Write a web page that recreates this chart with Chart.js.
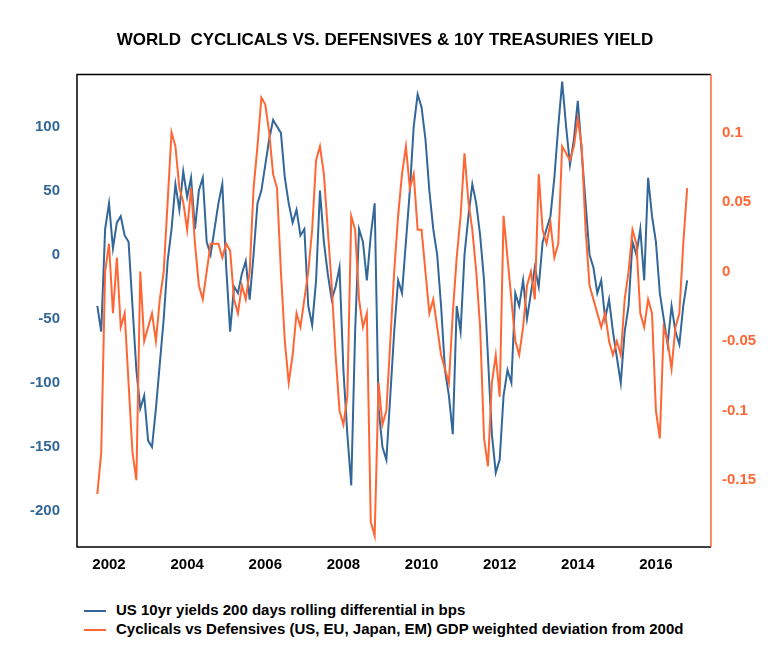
<!DOCTYPE html>
<html>
<head>
<meta charset="utf-8">
<script src="https://cdn.jsdelivr.net/npm/chart.js@4"></script>
<style>
  body { margin: 0; background: #fff; font-family: "Liberation Sans", Arial, sans-serif; }
  #wrap { width: 770px; height: 580px; }
  .legend { margin: 20px 0 0 84px; font-weight: bold; font-size: 15px; color: #000; }
  .legend div { height: 19px; line-height: 19px; }
  .legend span { display: inline-block; width: 22px; height: 2px; vertical-align: middle; margin-right: 10px; }
</style>
</head>
<body>
<div id="wrap"><canvas id="x-chart" width="770" height="580"></canvas></div>
<div class="legend">
  <div><span style="background:#336699"></span>US 10yr yields 200 days rolling differential in bps</div>
  <div><span style="background:#FF6633"></span>Cyclicals vs Defensives (US, EU, Japan, EM) GDP weighted deviation from 200d</div>
</div>
<script>
// sampled every 0.1 year starting 2001.7
var startYear = 2001.7;

var yieldDiff = [
  -40, -60, 20,
  40, 5, 25, 30, 15, 10, -40, -90, -120, -110,
  -145, -150, -120, -85, -50, -5, 20, 55, 35, 65,
  45, 60, 20, 50, 60, 10, 0, 20, 40, 55,
  -10, -60, -25, -30, -15, -5, -35, 0, 40, 50,
  70, 90, 105, 100, 95, 60, 40, 25, 35, 15,
  20, -40, -55, -20, 50, 10, -15, -35, -25, -10,
  -90, -140, -180, -60, 20, 10, -20, 15, 40, -120,
  -150, -160, -110, -60, -20, -30, 10, 50, 100, 125,
  115, 90, 50, 20, 0, -40, -90, -110, -140, -40,
  -60, 0, 30, 55, 40, 15, -20, -80, -140, -170,
  -160, -110, -90, -100, -30, -40, -20, -50, -30, -10,
  -25, 10, 20, 30, 60, 100, 135, 100, 70, 90,
  120, 80, 40, 0, -10, -30, -20, -50, -35, -60,
  -80, -100, -60, -40, 10, 0, 20, -20, 60, 30,
  10, -30, -50, -70, -40, -60, -70, -40, -20
];

var cycDef = [
  -0.16, -0.13, 0.0,
  0.02, -0.03, 0.01, -0.04, -0.03, -0.08, -0.13, -0.15, 0.0, -0.05,
  -0.04, -0.03, -0.05, -0.02, 0.0, 0.05, 0.10, 0.09, 0.06, 0.05,
  0.03, 0.06, 0.02, -0.01, -0.02, 0.0, 0.02, 0.02, 0.02, 0.01,
  0.02, 0.015, -0.02, -0.03, -0.01, -0.02, 0.0, 0.06, 0.09, 0.125,
  0.12, 0.10, 0.07, 0.06, 0.0, -0.05, -0.08, -0.06, -0.03, -0.04,
  -0.02, 0.0, 0.03, 0.08, 0.09, 0.07, 0.03, -0.01, -0.06, -0.10,
  -0.11, -0.09, 0.04, 0.03, -0.02, -0.04, -0.03, -0.18, -0.19, -0.08,
  -0.11, -0.10, -0.05, 0.0, 0.04, 0.07, 0.09, 0.06, 0.07, 0.03,
  0.03, 0.0, -0.03, -0.02, -0.04, -0.06, -0.07, -0.08, -0.03, 0.01,
  0.04, 0.085, 0.05, 0.03, 0.0, -0.04, -0.12, -0.14, -0.08, -0.06,
  -0.09, 0.04, 0.01, -0.02, -0.05, -0.06, -0.04, -0.01, 0.0, -0.02,
  0.07, 0.03, 0.02, 0.035, 0.01, 0.02, 0.09, 0.085, 0.08, 0.09,
  0.11, 0.09, 0.03, -0.01, -0.02, -0.03, -0.04, -0.03, -0.05, -0.06,
  -0.05, -0.06, -0.02, 0.0, 0.03, 0.02, -0.03, -0.04, -0.02, -0.03,
  -0.10, -0.12, -0.04, -0.05, -0.07, -0.04, -0.03, 0.02, 0.06
];

var blueSeries = yieldDiff.map(function (v, i) { return { x: startYear + i * 0.1, y: v }; });
var orangeSeries = cycDef.map(function (v, i) { return { x: startYear + i * 0.1, y: v }; });

var frame = {
  id: 'frame',
  afterDraw: function (chart) {
    var a = chart.chartArea, c = chart.ctx;
    c.save();
    c.lineWidth = 1.5;
    c.strokeStyle = '#000';
    c.beginPath();
    c.moveTo(a.right, a.top); c.lineTo(a.left, a.top); c.lineTo(a.left, a.bottom); c.lineTo(a.right, a.bottom);
    c.stroke();
    c.strokeStyle = '#FF6633';
    c.beginPath(); c.moveTo(a.right, a.top); c.lineTo(a.right, a.bottom); c.stroke();
    c.restore();
  }
};

var tickFont = { family: 'Liberation Sans', size: 15, weight: 'bold' };

new Chart(document.getElementById("x-chart"), {
  type: 'line',
  data: {
    datasets: [{
      label: "US 10yr yields 200 days rolling differential in bps",
      data: blueSeries,
      borderColor: '#336699',
      borderWidth: 2,
      pointRadius: 0,
      yAxisID: 'y',
      order: 1
    }, {
      label: "Cyclicals vs Defensives (US, EU, Japan, EM) GDP weighted deviation from 200d",
      data: orangeSeries,
      borderColor: '#FF6633',
      borderWidth: 2,
      pointRadius: 0,
      yAxisID: 'y2',
      order: 0
    }]
  },
  options: {
    responsive: false,
    animation: false,
    layout: { padding: { left: 0, right: 0 } },
    plugins: {
      legend: { display: false },
      tooltip: { enabled: false },
      title: {
        display: true,
        text: 'WORLD  CYCLICALS VS. DEFENSIVES & 10Y TREASURIES YIELD',
        color: '#000',
        font: { family: 'Liberation Sans', size: 17, weight: 'bold' },
        padding: { top: 30, bottom: 24 }
      }
    },
    scales: {
      x: {
        type: 'linear',
        min: 2001.18, max: 2017.41,
        afterBuildTicks: function (s) {
          var t = [];
          for (var yr = 2002; yr <= 2017; yr++) t.push({ value: yr });
          s.ticks = t;
        },
        afterFit: function (s) { s.height = 33; },
        grid: { display: false, drawTicks: true, tickLength: 7, tickColor: '#000' },
        border: { display: false },
        ticks: {
          color: '#000', font: tickFont, maxRotation: 0, autoSkip: false, padding: 2,
          callback: function (v) { return v % 2 === 0 ? String(v) : ''; }
        }
      },
      y: {
        position: 'left',
        min: -228, max: 140.6,
        afterBuildTicks: function (s) {
          s.ticks = [-200, -150, -100, -50, 0, 50, 100].map(function (v) { return { value: v }; });
        },
        afterFit: function (s) { s.width = 77; },
        grid: { display: false, tickLength: 7, tickColor: '#000' },
        border: { display: false },
        ticks: { color: '#336699', font: tickFont, padding: 10 }
      },
      y2: {
        position: 'right',
        min: -0.198, max: 0.1417,
        afterBuildTicks: function (s) {
          s.ticks = [-0.15, -0.1, -0.05, 0, 0.05, 0.1].map(function (v) { return { value: v }; });
        },
        afterFit: function (s) { s.width = 59; },
        grid: { display: false, tickLength: 7, tickColor: '#FF6633' },
        border: { display: false },
        ticks: {
          color: '#FF6633', font: tickFont, padding: 4,
          callback: function (v) { return String(Number(v.toFixed(2))); }
        }
      }
    }
  },
  plugins: [frame]
});
</script>
</body>
</html>
